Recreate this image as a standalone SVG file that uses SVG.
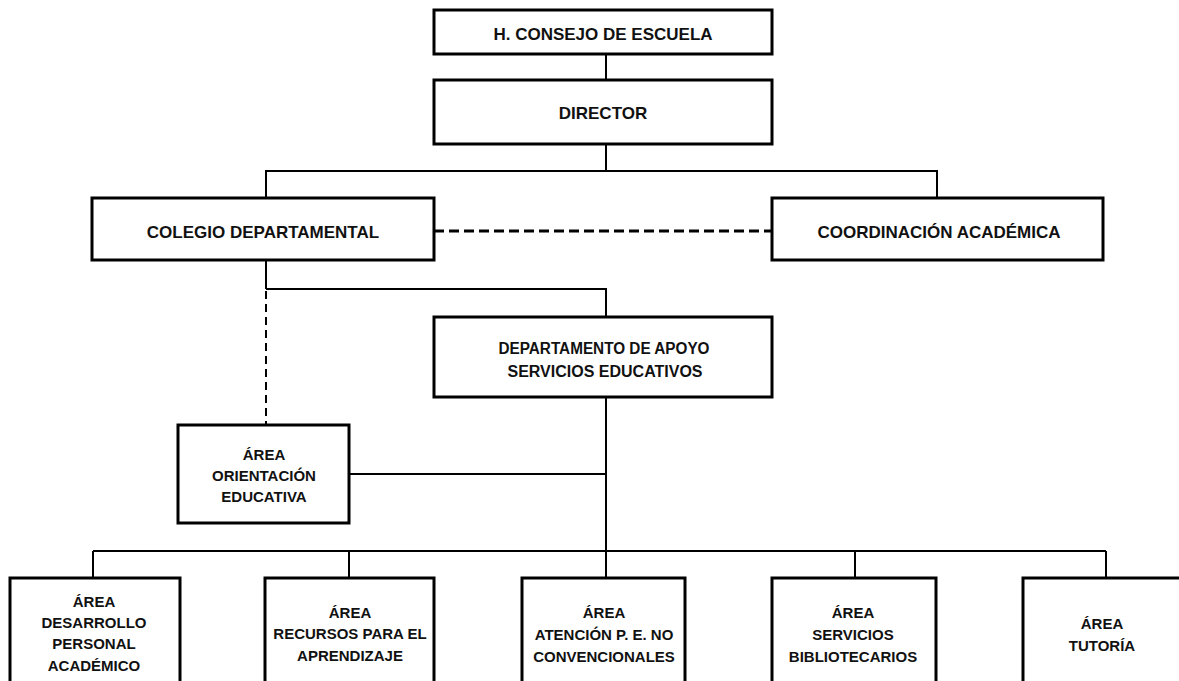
<svg xmlns="http://www.w3.org/2000/svg" width="1179" height="681" viewBox="0 0 1179 681">
<style>
.box{fill:#fff;stroke:#000;stroke-width:3}
.ln{stroke:#000;stroke-width:2;fill:none}
.dh{stroke:#000;stroke-width:3;fill:none;stroke-dasharray:10 5}
.dv{stroke:#000;stroke-width:2;fill:none;stroke-dasharray:8 5}
text{font-family:"Liberation Sans",Arial,sans-serif;font-weight:bold;fill:#111;text-anchor:middle}
.t17{font-size:17px}
.t16{font-size:16px}
.t15{font-size:15px}
</style>
<rect width="1179" height="681" fill="#fff"/>
<g id="connectors">
<line class="ln" x1="606" y1="54" x2="606" y2="80"/>
<line class="ln" x1="606" y1="144" x2="606" y2="171"/>
<polyline class="ln" points="266,198 266,171 937,171 937,198"/>
<line class="dh" x1="434" y1="231" x2="772" y2="231"/>
<line class="ln" x1="266" y1="260" x2="266" y2="289"/>
<polyline class="ln" points="266,289 606,289 606,317"/>
<line class="dv" x1="266" y1="291" x2="266" y2="425"/>
<line class="ln" x1="606" y1="397" x2="606" y2="578"/>
<line class="ln" x1="349" y1="474" x2="606" y2="474"/>
<line class="ln" x1="93" y1="551" x2="1106" y2="551"/>
<line class="ln" x1="93" y1="551" x2="93" y2="578"/>
<line class="ln" x1="349" y1="551" x2="349" y2="578"/>
<line class="ln" x1="855" y1="551" x2="855" y2="578"/>
<line class="ln" x1="1106" y1="551" x2="1106" y2="578"/>
</g>
<g id="consejo">
<rect class="box" x="434" y="10" width="338" height="44"/>
<text class="t17" x="603" y="40">H. CONSEJO DE ESCUELA</text>
</g>
<g id="director">
<rect class="box" x="434" y="80" width="338" height="64"/>
<text class="t17" x="603" y="119">DIRECTOR</text>
</g>
<g id="colegio">
<rect class="box" x="92" y="198" width="342" height="62"/>
<text class="t17" x="263" y="238">COLEGIO DEPARTAMENTAL</text>
</g>
<g id="coordinacion">
<rect class="box" x="772" y="198" width="331" height="62"/>
<text class="t17" x="939" y="238">COORDINACIÓN ACADÉMICA</text>
</g>
<g id="departamento">
<rect class="box" x="434" y="317" width="338" height="80"/>
<text class="t16" x="604" y="354" textLength="211" lengthAdjust="spacingAndGlyphs">DEPARTAMENTO DE APOYO</text>
<text class="t16" x="605" y="377">SERVICIOS EDUCATIVOS</text>
</g>
<g id="orientacion">
<rect class="box" x="178" y="425" width="171" height="98"/>
<text class="t15" x="264" y="460">ÁREA</text>
<text class="t15" x="264" y="481">ORIENTACIÓN</text>
<text class="t15" x="264" y="502">EDUCATIVA</text>
</g>
<g id="desarrollo">
<rect class="box" x="10" y="578" width="170" height="130"/>
<text class="t15" x="94" y="607">ÁREA</text>
<text class="t15" x="94" y="628">DESARROLLO</text>
<text class="t15" x="94" y="649">PERSONAL</text>
<text class="t15" x="94" y="671">ACADÉMICO</text>
</g>
<g id="recursos">
<rect class="box" x="265" y="578" width="169" height="130"/>
<text class="t15" x="350" y="618">ÁREA</text>
<text class="t15" x="350" y="639">RECURSOS PARA EL</text>
<text class="t15" x="350" y="661">APRENDIZAJE</text>
</g>
<g id="atencion">
<rect class="box" x="522" y="578" width="163" height="130"/>
<text class="t15" x="604" y="618">ÁREA</text>
<text class="t15" x="604" y="640">ATENCIÓN P. E. NO</text>
<text class="t15" x="604" y="662">CONVENCIONALES</text>
</g>
<g id="bibliotecarios">
<rect class="box" x="772" y="578" width="164" height="130"/>
<text class="t15" x="853" y="618">ÁREA</text>
<text class="t15" x="853" y="640">SERVICIOS</text>
<text class="t15" x="853" y="662">BIBLIOTECARIOS</text>
</g>
<g id="tutoria">
<rect class="box" x="1023" y="578" width="170" height="130"/>
<text class="t15" x="1102" y="629">ÁREA</text>
<text class="t15" x="1102" y="651">TUTORÍA</text>
</g>
</svg>
